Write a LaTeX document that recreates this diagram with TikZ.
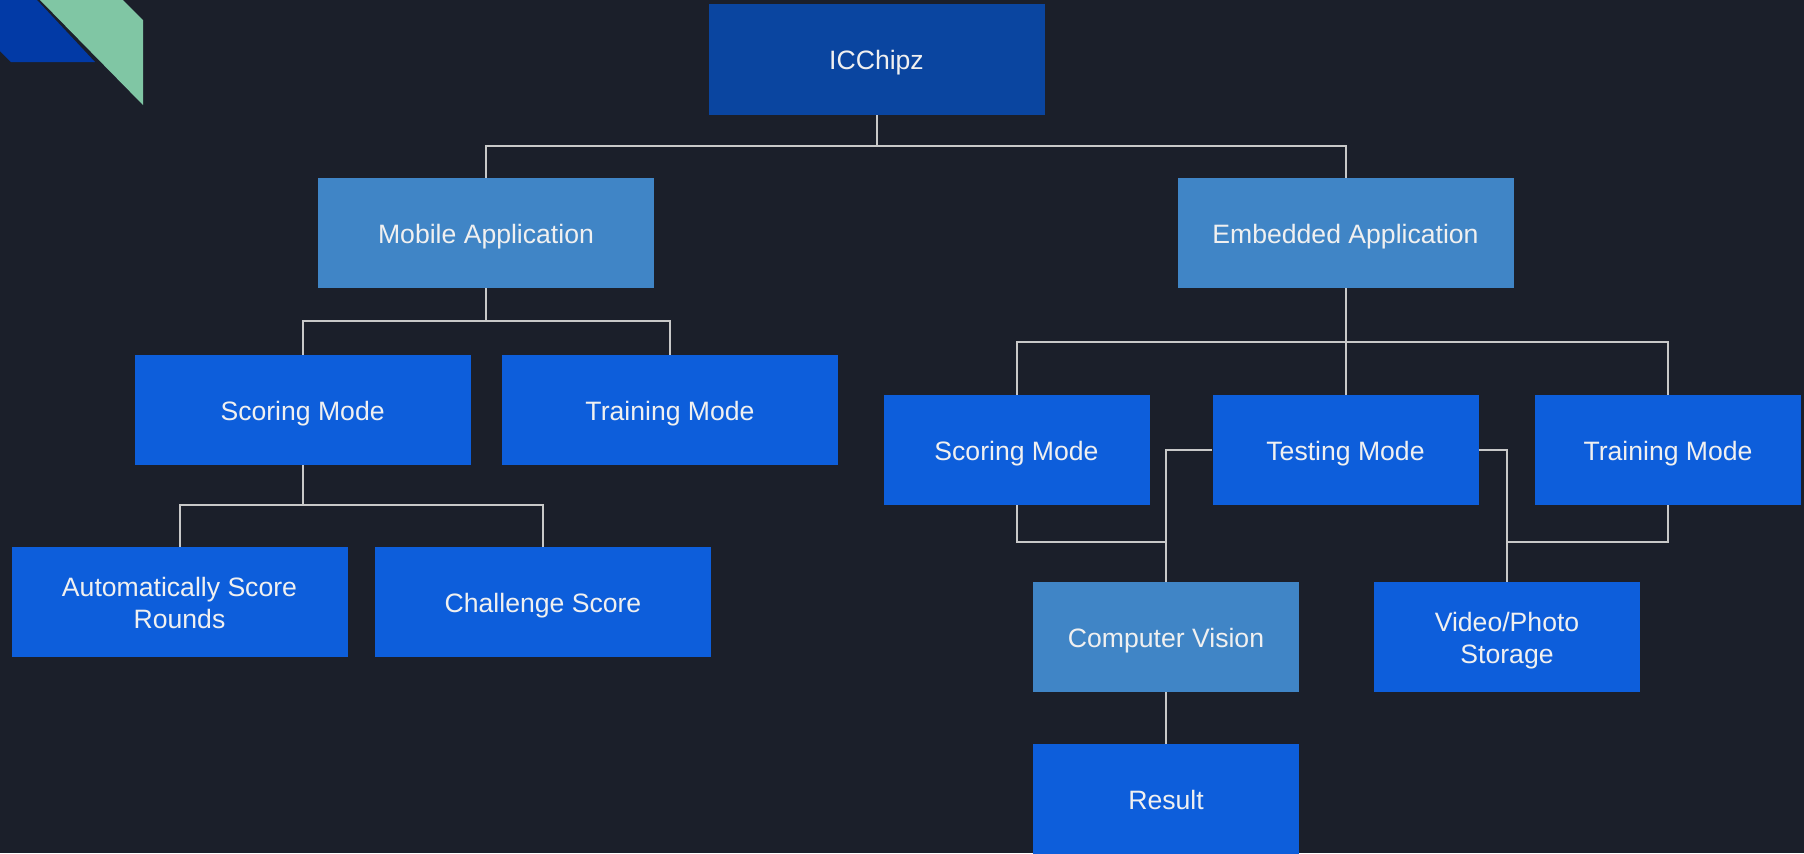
\documentclass[tikz,border=0pt]{standalone}
\usepackage{fontspec}
\setmainfont{Liberation Sans}
\definecolor{bgdark}{RGB}{27,31,42}
\definecolor{rootblue}{RGB}{10,69,160}
\definecolor{paleblue}{RGB}{64,133,198}
\definecolor{brightblue}{RGB}{13,94,219}
\definecolor{cornerblue}{RGB}{2,58,166}
\definecolor{cornergreen}{RGB}{128,198,164}
\definecolor{wire}{RGB}{200,200,200}
% centred label block, set a little below the geometric middle
\newcommand{\boxtext}[1]{\raisebox{-1.8pt}[\height][\depth]{\begin{tabular}{@{}c@{}}#1\end{tabular}}}
\begin{document}
\begin{tikzpicture}[x=0.5pt,y=-0.5pt,
  box/.style={rectangle, inner sep=0pt, text=white!94!black,
    font=\fontsize{13.3}{16}\selectfont, minimum height=55pt},
  wide/.style={box, minimum width=168pt},
  narrow/.style={box, minimum width=133pt},
  link/.style={draw=wire, line width=1pt}]
  % background
  \fill[bgdark] (0,0) rectangle (1804,853);
  \useasboundingbox (0,0) rectangle (1804,853);
  % corner ornament
  \fill[cornerblue] (0,0) -- (37,0) -- (95,62) -- (11,62) -- (0,51) -- cycle;
  \fill[cornergreen] (40,0) -- (123,0) -- (143,20) -- (143,105) -- cycle;

  % nodes
  \node[wide, fill=rootblue, minimum height=55.5pt] (top) at (876.5,59.5) {\boxtext{ICChipz}};
  \node[wide, fill=paleblue] (mob) at (486,233) {\boxtext{Mobile Application}};
  \node[wide, fill=paleblue] (emb) at (1345.5,233) {\boxtext{Embedded Application}};
  \node[wide, fill=brightblue] (mscore) at (302.6,410) {\boxtext{Scoring Mode}};
  \node[wide, fill=brightblue] (mtrain) at (670,410) {\boxtext{Training Mode}};
  \node[wide, fill=brightblue] (auto) at (179.5,602) {\boxtext{Automatically Score\\Rounds}};
  \node[wide, fill=brightblue] (chal) at (543,602) {\boxtext{Challenge Score}};
  \node[narrow, fill=brightblue] (escore) at (1016.5,450) {\boxtext{Scoring Mode}};
  \node[narrow, fill=brightblue] (etest) at (1345.5,450) {\boxtext{Testing Mode}};
  \node[narrow, fill=brightblue] (etrain) at (1668,450) {\boxtext{Training Mode}};
  \node[narrow, fill=paleblue] (cv) at (1166,637) {\boxtext{Computer Vision}};
  \node[narrow, fill=brightblue] (vps) at (1507,637) {\boxtext{Video/Photo\\Storage}};
  \node[narrow, fill=brightblue] (res) at (1166,799) {\boxtext{Result}};

  % bus points
  \coordinate (b1) at (876.5,146);
  \coordinate (b2) at (486,321);
  \coordinate (b3) at (302.6,505);
  \coordinate (b4) at (1345.5,342);
  \coordinate (j1) at (1166,542);
  \coordinate (j2) at (1507,542);

  % connectors
  \draw[link] (top.south) -- (b1);
  \draw[link] (mob.north) |- (b1) -| (emb.north);
  \draw[link] (mob.south) -- (b2);
  \draw[link] (mscore.north) |- (b2) -| (mtrain.north);
  \draw[link] (mscore.south) -- (b3);
  \draw[link] (auto.north) |- (b3) -| (chal.north);
  \draw[link] (emb.south) -- (b4);
  \draw[link] (escore.north) |- (b4) -| (etrain.north);
  \draw[link] (b4) -- (etest.north);
  \draw[link] (etest.west) -| (cv.north);
  \draw[link] (escore.south) |- (j1);
  \draw[link] (etest.east) -| (vps.north);
  \draw[link] (etrain.south) |- (j2);
  \draw[link] (cv.south) -- (res.north);
\end{tikzpicture}
\end{document}
